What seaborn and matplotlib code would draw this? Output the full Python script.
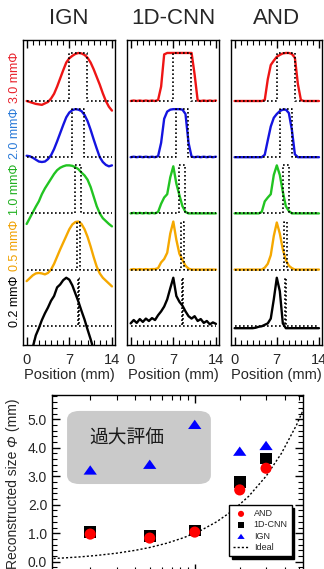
import numpy as np
import matplotlib
matplotlib.use("Agg")
import matplotlib.pyplot as plt
import seaborn as sns
from matplotlib.patches import FancyBboxPatch
from matplotlib.ticker import MultipleLocator, FormatStrFormatter, LogLocator, NullFormatter

sns.set_style("white")
plt.rcParams['font.family'] = ['Liberation Sans', 'Noto Sans CJK JP', 'DejaVu Sans']

# ---- profile data (normalised, every 0.5 mm) ----
position = np.arange(0, 14.01, 0.5)
sizes = [3.0, 2.0, 1.0, 0.5, 0.2]
size_labels = ["3.0 mmΦ", "2.0 mmΦ", "1.0 mmΦ", "0.5 mmΦ", "0.2 mmΦ"]

ign_30 = [0.00, -0.02, -0.04, -0.06, -0.07, -0.08, -0.05, -0.02, 0.05, 0.15, 0.30, 0.47, 0.64, 0.80, 0.89,
          0.94, 0.98, 1.00, 0.99, 0.96, 0.90, 0.80, 0.66, 0.50, 0.34, 0.16, 0.00, -0.12, -0.20]
ign_20 = [0.03, 0.02, -0.01, -0.05, -0.09, -0.10, -0.09, -0.04, 0.04, 0.17, 0.33, 0.50, 0.67, 0.83, 0.93,
          0.98, 1.00, 0.99, 0.96, 0.88, 0.75, 0.57, 0.37, 0.18, 0.00, -0.10, -0.16, -0.19, -0.17]
ign_10 = [-0.22, -0.10, 0.02, 0.14, 0.25, 0.40, 0.52, 0.62, 0.72, 0.82, 0.90, 0.95, 0.98, 1.00, 1.00,
          0.99, 0.96, 0.92, 0.85, 0.79, 0.70, 0.55, 0.35, 0.15, 0.00, -0.10, -0.16, -0.22, -0.27]
ign_05 = [-0.24, -0.18, -0.12, -0.08, -0.07, -0.08, -0.10, -0.07, 0.00, 0.12, 0.27, 0.42, 0.56, 0.70, 0.84,
          0.94, 0.99, 1.00, 0.95, 0.84, 0.68, 0.48, 0.26, 0.06, -0.08, -0.17, -0.23, -0.29, -0.35]
ign_02 = [-0.70, -0.60, -0.45, -0.20, -0.05, 0.12, 0.26, 0.38, 0.52, 0.62, 0.80, 0.86, 0.95, 1.00, 0.96,
          0.84, 0.67, 0.50, 0.31, 0.13, -0.08, -0.28, -0.50, -0.70, -0.80, -0.85, -0.90, -0.95, -1.00]

cnn_30 = [0.00, 0.01, 0.00, 0.01, 0.00, 0.01, 0.00, 0.01, 0.00, 0.02, 0.30, 0.97] + [1.00] * 9 + \
         [0.55, 0.01, 0.00, 0.01, 0.00, 0.01, 0.00, 0.01]
cnn_20 = [0.00, 0.01, 0.00, 0.01, 0.00, 0.01, 0.00, 0.01, 0.00, 0.02, 0.30, 0.80, 0.95, 0.99, 1.00, 1.00,
          1.00, 0.99, 0.90, 0.30, 0.01, 0.00, 0.01, 0.00, 0.01, 0.00, 0.01, 0.00, 0.01]
cnn_10 = [0.00, 0.01, 0.00, 0.01, 0.00, 0.01, 0.00, 0.01, 0.00, 0.03, 0.20, 0.33, 0.40, 0.75, 0.98, 0.62,
          0.38, 0.15, 0.03] + [0.00] * 10
cnn_05 = [0.00, 0.01, 0.00, 0.01, 0.00, 0.01, 0.00, 0.01, 0.01, 0.03, 0.15, 0.22, 0.35, 0.75, 1.00, 0.62,
          0.33, 0.20, 0.08, 0.02] + [0.00] * 9
cnn_02 = [0.05, 0.12, 0.06, 0.14, 0.08, 0.15, 0.10, 0.16, 0.12, 0.22, 0.30, 0.40, 0.55, 0.78, 1.00, 0.62,
          0.50, 0.42, 0.30, 0.20, 0.15, 0.20, 0.10, 0.14, 0.06, 0.10, 0.03, 0.07, 0.04]

and_30 = [0.00] * 10 + [0.02, 0.45, 0.75, 0.84, 0.92, 0.96, 0.99, 1.00, 1.00, 0.98, 0.90, 0.35, 0.02] + [0.00] * 6
and_20 = [0.00] * 10 + [0.05, 0.35, 0.64, 0.82, 0.90, 0.96, 0.99, 0.99, 0.92, 0.57, 0.06] + [0.00] * 8
and_10 = [0.00] * 9 + [0.03, 0.25, 0.33, 0.40, 0.80, 1.00, 0.80, 0.45, 0.15, 0.05] + [0.00] * 10
and_05 = [0.00] * 10 + [0.04, 0.12, 0.30, 0.70, 0.98, 0.75, 0.42, 0.20, 0.08, 0.03] + [0.00] * 9
and_02 = [-0.05] * 7 + [-0.04, -0.02, -0.01, 0.02, 0.05, 0.15, 0.55, 1.00, 0.72, 0.05] + [-0.05] * 12

ideal_center = 8.45

# ---- reconstructed size data ----
true_size = [0.2, 0.5, 1.0, 2.0, 3.0]
and_size = [0.97, 0.83, 1.04, 2.52, 3.28]
cnn_size = [1.05, 0.90, 1.10, 2.80, 3.62]
ign_size = [3.22, 3.42, 4.82, 3.88, 4.08]
ideal_size = [0.1, 0.13, 0.17, 0.22, 0.3, 0.4, 0.5, 0.65, 0.85, 1.1, 1.4, 1.8, 2.3, 3.0, 3.8, 4.8, 5.5]

trace_colors = ["#ee1515", "#1414e0", "#22c422", "#f5a800", "#000000"]
label_colors = ["#e8202a", "#2a7ad8", "#20b020", "#f0a000", "#000000"]

fig = plt.figure(figsize=(3.24, 5.69), dpi=100)
W, H = 324, 569

panels = [("IGN", [ign_30, ign_20, ign_10, ign_05, ign_02], 23, 92),
          ("1D-CNN", [cnn_30, cnn_20, cnn_10, cnn_05, cnn_02], 127, 92),
          ("AND", [and_30, and_20, and_10, and_05, and_02], 231, 91)]
step = 1.17

for col, (name, profiles, left, width) in enumerate(panels):
    ax = fig.add_axes([left / W, 1 - 345 / H, width / W, 305 / H])
    for i, (prof, size, color) in enumerate(zip(profiles, sizes, trace_colors)):
        off = (4 - i) * step
        sns.lineplot(x=position, y=np.array(prof) + off, ax=ax, color=color, lw=1.7)
        l, r = ideal_center - size / 2, ideal_center + size / 2
        ax.plot([0, l, l, r, r, 14], [off, off, off + 1, off + 1, off, off],
                ls=(0, (1, 1.4)), color="k", lw=1.2, zorder=5)
        if col == 0:
            ax.text(-0.087, off + 0.5, size_labels[i], transform=ax.get_yaxis_transform(),
                    rotation=90, ha="center", va="center", fontsize=9, color=label_colors[i])
    ax.set_xlim(-0.6, 14.5)
    ax.set_ylim(-0.4, 5.95)
    ax.set_xticks([0, 7, 14])
    ax.xaxis.set_minor_locator(MultipleLocator(1))
    ax.set_yticks([])
    ax.tick_params(axis="x", which="both", direction="in", top=True, bottom=True,
                   labelsize=10.5, pad=6, color="k")
    ax.tick_params(axis="x", which="major", length=6, width=1)
    ax.tick_params(axis="x", which="minor", length=3.5, width=0.8)
    for sp in ax.spines.values():
        sp.set_color("k")
        sp.set_linewidth(1.0)
    ax.set_xlabel("Position (mm)", fontsize=10.5, labelpad=0.5)
    ax.set_ylabel("")
    fig.text((left + width / 2) / W, 1 - 18 / H, name, ha="center", va="center", fontsize=16)

# ---- bottom chart ----
ax2 = fig.add_axes([52 / W, 1 - 572 / H, 251 / W, 177 / H])
box = FancyBboxPatch((0.06, 0.497), 0.573, 0.413, boxstyle="round,pad=0,rounding_size=0.05",
                     transform=ax2.transAxes, facecolor="#cacaca", edgecolor="none", zorder=1)
ax2.add_patch(box)
ax2.text(0.30, 0.75, "過大評価", transform=ax2.transAxes, ha="center", va="center",
         fontsize=13.5, color="#1a1a1a", zorder=2)

tri = [(-1, -0.7), (1, -0.7), (0, 0.7), (-1, -0.7)]
sns.scatterplot(x=true_size, y=ign_size, ax=ax2, marker=tri, s=92, color="#0000ff",
                edgecolor="none", linewidth=0, label="IGN", zorder=3)
sns.scatterplot(x=true_size, y=cnn_size, ax=ax2, marker="s", s=70, color="#000000",
                edgecolor="none", linewidth=0, label="1D-CNN", zorder=3)
sns.scatterplot(x=true_size, y=and_size, ax=ax2, marker="o", s=64, color="#ff0000",
                edgecolor="none", linewidth=0, label="AND", zorder=4)
ax2.plot(ideal_size, ideal_size, ls=(0, (1.5, 1.5)), color="k", lw=1.0, label="Ideal", zorder=2)

ax2.set_xscale("log")
ax2.set_xlim(0.111, 5.3)
ax2.set_ylim(-0.36, 5.85)
ax2.yaxis.set_major_locator(MultipleLocator(1.0))
ax2.yaxis.set_minor_locator(MultipleLocator(0.2))
ax2.yaxis.set_major_formatter(FormatStrFormatter("%.1f"))
ax2.xaxis.set_major_locator(LogLocator(base=10))
ax2.xaxis.set_minor_locator(LogLocator(base=10, subs=np.arange(2, 10)))
ax2.xaxis.set_minor_formatter(NullFormatter())
ax2.tick_params(axis="both", which="both", direction="in", top=True, bottom=True,
                left=True, right=True, color="k")
ax2.tick_params(axis="both", which="major", length=6, width=1, labelsize=10)
ax2.tick_params(axis="both", which="minor", length=3.5, width=0.8)
ax2.tick_params(axis="x", labelbottom=False)
for sp in ax2.spines.values():
    sp.set_color("k")
    sp.set_linewidth(1.0)
ax2.set_ylabel("")
ax2.set_xlabel("")

# y label in three pieces so that Φ can be italic
renderer = fig.canvas.get_renderer()
lab_x = 20 / W
lab_y = 1 - 569 / H
for piece, style in [("Reconstructed size ", "normal"), ("Φ", "italic"), (" (mm)", "normal")]:
    t = fig.text(lab_x, lab_y, piece, rotation=90, ha="right", va="bottom",
                 fontsize=10, fontstyle=style)
    bb = t.get_window_extent(renderer)
    lab_y = bb.y1 / (H)

handles, labels = ax2.get_legend_handles_labels()
order = [labels.index(k) for k in ["AND", "1D-CNN", "IGN", "Ideal"]]
leg = ax2.legend([handles[k] for k in order], [labels[k] for k in order],
                 loc="lower right", bbox_to_anchor=(0.955, 0.09), borderaxespad=0,
                 fontsize=6.5, markerscale=0.55, handlelength=1.8, handletextpad=0.5,
                 labelspacing=0.25, borderpad=0.45, fancybox=False,
                 shadow={"color": "k", "alpha": 1}, framealpha=1, edgecolor="k")
leg.get_frame().set_linewidth(1.0)

fig.savefig("out.png", dpi=100)
